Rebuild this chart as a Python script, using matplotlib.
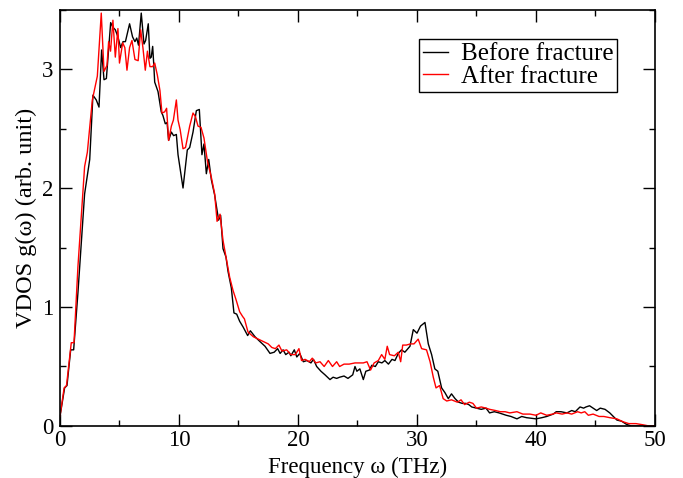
import matplotlib
matplotlib.use("Agg")
import matplotlib.pyplot as plt

# frequency (THz) and VDOS, before fracture
freq_before = [0.0, 0.39, 0.59, 0.9, 1.15, 1.51, 2.07, 2.5, 2.77, 3.05, 3.28, 3.5, 3.7, 3.9, 4.26, 4.45, 4.65, 4.87,
               5.1, 5.3, 5.5, 5.85, 6.1, 6.3, 6.45, 6.6, 6.83, 7.06, 7.2, 7.42, 7.56, 7.67, 7.79, 7.88, 7.96, 8.24,
               8.51, 8.65, 8.85, 9.0, 9.13, 9.36, 9.55, 9.78, 9.92, 10.34, 10.7, 10.9, 11.18, 11.46, 11.71, 11.93,
               12.1, 12.3, 12.5, 12.72, 13.0, 13.33, 13.5, 13.7, 13.95, 14.12, 14.4, 14.62, 14.85, 15.1, 15.4, 15.77,
               16.0, 16.39, 16.8, 17.23, 17.65, 18.0, 18.29, 18.5, 18.75, 18.97, 19.25, 19.4, 19.69, 19.9, 20.15,
               20.45, 20.75, 21.09, 21.3, 21.57, 21.93, 22.27, 22.69, 22.95, 23.25, 23.5, 23.87, 24.2, 24.6, 24.79,
               24.95, 25.2, 25.49, 25.7, 26.0, 26.2, 26.5, 26.75, 27.05, 27.3, 27.6, 27.9, 28.15, 28.43, 28.7, 28.98,
               29.41, 29.69, 30.0, 30.3, 30.67, 30.95, 31.23, 31.5, 31.75, 32.07, 32.35, 32.63, 32.9, 33.2, 33.5,
               33.8, 34.1, 34.35, 34.6, 35.0, 35.4, 35.8, 36.1, 36.5, 36.9, 37.5, 37.9, 38.4, 38.8, 39.2, 39.6, 40.0,
               40.5, 40.9, 41.45, 41.7, 42.1, 42.6, 43.0, 43.3, 43.7, 44.0, 44.2, 44.5, 44.8, 45.1, 45.4, 45.8, 46.2,
               46.5, 46.8, 47.2, 47.6, 48.0, 50.0]
vdos_before = [0.08, 0.32, 0.34, 0.64, 0.64, 1.12, 1.95, 2.24, 2.78, 2.74, 2.68, 3.16, 2.91, 2.92, 3.39, 3.35, 3.33, 3.27,
               3.18, 3.23, 3.23, 3.38, 3.27, 3.23, 3.26, 3.20, 3.47, 3.21, 3.24, 3.38, 3.09, 3.10, 3.19, 3.04, 2.89, 2.81,
               2.64, 2.61, 2.54, 2.55, 2.40, 2.47, 2.44, 2.45, 2.28, 2.00, 2.32, 2.34, 2.47, 2.65, 2.66, 2.28,
               2.37, 2.12, 2.24, 2.07, 1.94, 1.73, 1.77, 1.49, 1.42, 1.30, 1.16, 0.95, 0.94, 0.88, 0.83, 0.76,
               0.80, 0.75, 0.71, 0.67, 0.61, 0.62, 0.65, 0.61, 0.64, 0.60, 0.62, 0.59, 0.64, 0.58, 0.61,
               0.54, 0.55, 0.53, 0.56, 0.50, 0.46, 0.43, 0.39, 0.41, 0.40, 0.41, 0.42, 0.40, 0.43, 0.50,
               0.46, 0.48, 0.39, 0.46, 0.47, 0.51, 0.50, 0.54, 0.53, 0.55, 0.52, 0.56, 0.55, 0.61, 0.64, 0.62,
               0.67, 0.81, 0.78, 0.84, 0.87, 0.69, 0.60, 0.48, 0.46, 0.32, 0.28, 0.23, 0.27, 0.23, 0.20,
               0.19, 0.19, 0.18, 0.16, 0.15, 0.14, 0.15, 0.11, 0.12, 0.11, 0.09, 0.08, 0.06, 0.08, 0.07, 0.065, 0.06,
               0.07, 0.08, 0.10, 0.12, 0.12, 0.11, 0.13, 0.12, 0.16, 0.15, 0.16, 0.17, 0.15, 0.13, 0.15, 0.14, 0.11,
               0.08, 0.05, 0.04, 0.014, 0.0, 0.0]

# frequency (THz) and VDOS, after fracture
freq_after = [0.0, 0.35, 0.55, 0.95, 1.18, 1.51, 2.07, 2.3, 2.72, 3.14, 3.47, 3.7, 3.95, 4.09, 4.25, 4.45, 4.65, 4.87,
              5.0, 5.27, 5.45, 5.63, 5.85, 6.05, 6.3, 6.57, 6.78, 6.97, 7.17, 7.35, 7.56, 7.79, 7.96, 8.18, 8.4,
              8.57, 8.8, 8.96, 9.13, 9.36, 9.53, 9.78, 9.92, 10.1, 10.34, 10.55, 10.9, 11.18, 11.38, 11.6, 11.85,
              12.1, 12.4, 12.72, 13.0, 13.2, 13.45, 13.7, 13.95, 14.26, 14.54, 14.8, 15.1, 15.35, 15.5, 15.8, 16.25,
              16.67, 17.1, 17.5, 17.8, 18.1, 18.4, 18.65, 19.05, 19.4, 19.78, 20.08, 20.3, 20.6, 20.95, 21.2, 21.5,
              21.85, 22.2, 22.55, 22.9, 23.25, 23.5, 23.87, 24.3, 24.79, 25.2, 25.49, 25.8, 26.1, 26.4, 26.75, 27.03,
              27.3, 27.5, 27.7, 28.1, 28.43, 28.63, 28.8, 29.1, 29.47, 29.75, 30.1, 30.39, 30.8, 31.1, 31.37, 31.6,
              31.9, 32.2, 32.5, 32.9, 33.4, 33.7, 34.0, 34.4, 34.7, 35.0, 35.4, 35.8, 36.1, 36.6, 37.0, 37.4, 37.8,
              38.4, 38.9, 39.5, 40.0, 40.4, 40.9, 41.4, 41.7, 42.2, 42.6, 43.0, 43.5, 43.8, 44.1, 44.4, 44.8, 45.3,
              45.7, 46.2, 46.8, 47.3, 47.8, 48.4, 49.0, 49.5, 50.0]
vdos_after = [0.08, 0.32, 0.34, 0.70, 0.70, 1.34, 2.18, 2.30, 2.74, 2.94, 3.47, 2.98, 3.03, 3.23, 3.15, 3.41, 3.10, 3.34,
              3.05, 3.22, 3.18, 2.99, 3.18, 3.24, 3.08, 3.07, 3.33, 3.18, 2.99, 3.15, 3.02, 3.02, 3.05, 2.95, 2.82,
              2.63, 2.64, 2.67, 2.40, 2.52, 2.57, 2.74, 2.57, 2.49, 2.33, 2.34, 2.52, 2.63, 2.60, 2.52, 2.51,
              2.42, 2.22, 2.09, 1.95, 1.72, 1.78, 1.56, 1.42, 1.25, 1.14, 1.06, 0.96, 0.92, 0.90, 0.79, 0.75,
              0.73, 0.71, 0.69, 0.66, 0.65, 0.68, 0.63, 0.64, 0.60, 0.60, 0.65, 0.55, 0.56, 0.54, 0.57, 0.53,
              0.54, 0.50, 0.55, 0.50, 0.54, 0.50, 0.52, 0.52, 0.53, 0.53, 0.53, 0.54, 0.47, 0.53, 0.55, 0.60,
              0.56, 0.67, 0.60, 0.59, 0.62, 0.54, 0.68, 0.68, 0.69, 0.69, 0.73, 0.65, 0.64, 0.54, 0.41, 0.32,
              0.34, 0.23, 0.21, 0.22, 0.20, 0.22, 0.18, 0.20, 0.19, 0.15, 0.16, 0.15, 0.14, 0.13, 0.12, 0.12, 0.11,
              0.12, 0.10, 0.10, 0.09, 0.11, 0.09, 0.10, 0.11, 0.10, 0.11, 0.10, 0.12, 0.11, 0.12, 0.09, 0.10, 0.08,
              0.08, 0.07, 0.06, 0.036, 0.02, 0.02, 0.01, 0.0, 0.0]

plt.rcParams['font.family'] = ['Liberation Serif', 'DejaVu Serif']

fig = plt.figure(figsize=(6.83, 4.78), dpi=100)
ax = fig.add_axes([0.0878, 0.1088, 0.8712, 0.8713])

ax.plot(freq_before, vdos_before, color='black', lw=1.0, label='Before fracture')
ax.plot(freq_after, vdos_after, color='red', lw=1.0, label='After fracture')

ax.set_xlim(0, 50)
ax.set_ylim(0, 3.5)
ax.set_xticks([0, 10, 20, 30, 40, 50])
ax.set_xticks([5, 15, 25, 35, 45], minor=True)
ax.set_yticks([0, 1, 2, 3])
ax.set_yticks([0.5, 1.5, 2.5, 3.5], minor=True)
ax.tick_params(which='both', direction='in', top=True, right=True, labelsize=16.5, width=1.0)
ax.tick_params(axis='x', which='both', pad=3)
ax.tick_params(axis='y', which='both', pad=5)
ax.tick_params(which='major', length=8.5)
ax.tick_params(which='minor', length=4.3)
for s in ax.spines.values():
    s.set_linewidth(1.2)

ax.set_xlabel('Frequency ω (THz)', fontsize=16.5, labelpad=4)
ax.set_ylabel('VDOS g(ω) (arb. unit)', fontsize=17.5, labelpad=3)

leg = ax.legend(loc='upper right', bbox_to_anchor=(0.936, 0.929), borderaxespad=0, fontsize=18,
                handlelength=1.0, handletextpad=0.5, labelspacing=0.0, borderpad=0.15, fancybox=False,
                framealpha=1)
leg.get_frame().set_edgecolor('black')
leg.get_frame().set_linewidth(1.0)

plt.savefig('out.png', dpi=100)
